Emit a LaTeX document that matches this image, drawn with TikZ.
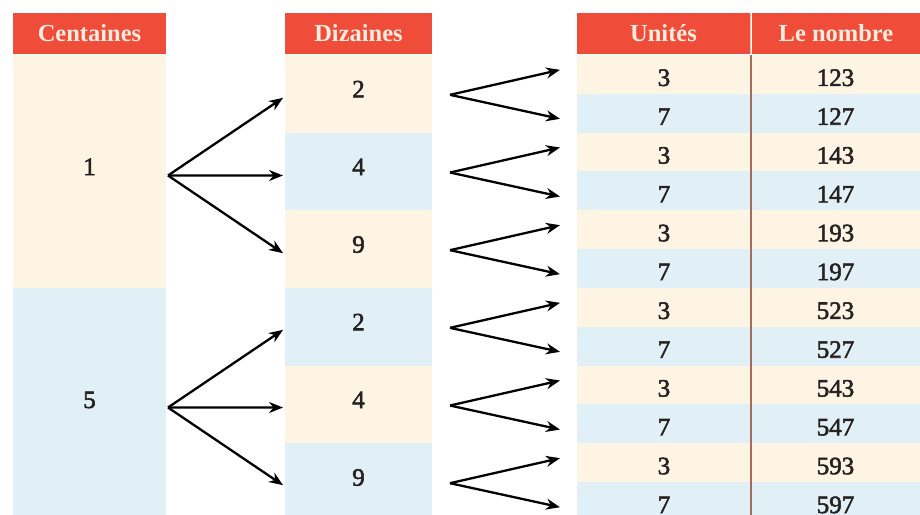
\documentclass[tikz,border=0pt]{standalone}
\usepackage{fontspec}
\setmainfont{Liberation Serif}
\newfontfamily\numfont[FakeBold=2.2]{Liberation Serif}
\usetikzlibrary{arrows.meta,calc}
\definecolor{hdr}{RGB}{239,76,58}
\definecolor{hdrtext}{RGB}{252,236,222}
\definecolor{cream}{RGB}{253,244,228}
\definecolor{lblue}{RGB}{225,240,247}
\definecolor{numcol}{RGB}{38,34,34}
\definecolor{sepcol}{RGB}{165,108,92}
\begin{document}
\begin{tikzpicture}[x=1pt,y=-1pt,
  cell/.style={draw=none, inner sep=0pt, outer sep=0pt, text=numcol,
    font=\numfont\fontsize{25}{25}\selectfont},
  up/.style={text height=17pt, text depth=10pt},
  dn/.style={text height=23pt, text depth=0pt},
  head/.style={fill=hdr, text=hdrtext, inner sep=0pt, outer sep=0pt,
    minimum height=41pt, font=\bfseries\fontsize{24.5}{24.5}\selectfont},
  arr/.style={line width=2.3pt, black, -{Stealth[length=14pt,width=11pt]}}
]
\useasboundingbox (0,0) rectangle (920,514);
\clip (0,0) rectangle (920,514);

% headers
\node[head, minimum width=153pt] (hc) at (89.5,33.5) {Centaines};
\node[head, minimum width=147pt] (hd) at (358.5,33.5) {Dizaines};
\node[head, minimum width=173pt] (hu) at (663.5,33.5) {Unités};
\node[head, minimum width=168pt] (hn) at (836,33.5) {Le nombre};

% centaines
\node[cell, up, fill=cream, minimum width=153pt, minimum height=233pt] (c1) at (89.5,171.5) {1};
\node[cell, up, fill=lblue, minimum width=153pt, minimum height=233pt] (c2) at (89.5,404.5) {5};

% dizaines
\foreach \k/\v/\col in {0/2/cream,1/4/lblue,2/9/cream,3/2/lblue,4/4/cream,5/9/lblue}{
  \node[cell, up, fill=\col, minimum width=147pt, minimum height=77.8pt] (d\k) at (358.5,{55+77.67*(\k+0.5)}) {\v};
}

% unites and nombre
\foreach \k/\u/\n/\col in {0/3/123/cream,1/7/127/lblue,2/3/143/cream,3/7/147/lblue,4/3/193/cream,5/7/197/lblue,6/3/523/cream,7/7/527/lblue,8/3/543/cream,9/7/547/lblue,10/3/593/cream,11/7/597/lblue}{
  \node[cell, dn, fill=\col, minimum width=174pt, minimum height=39pt] (u\k) at (664,{55+38.83*(\k+0.5)}) {\u};
  \node[cell, dn, fill=\col, minimum width=169pt, minimum height=39pt] (n\k) at (835.5,{55+38.83*(\k+0.5)}) {\n};
}
\draw[sepcol, line width=1.4pt] (u0.north east) -- (u11.south east);
\draw[hdrtext!70!hdr, line width=1pt] (hu.north east) -- (hu.south east);

% arrows centaines -> dizaines
\foreach \k in {0,1,2}{
  \draw[arr] ($(c1.east)+(2,4)$) -- ($(d\k.west)+(-2,4)$);
}
\foreach \k in {3,4,5}{
  \draw[arr] ($(c2.east)+(2,3)$) -- ($(d\k.west)+(-2,3)$);
}
% arrows dizaines -> unites
\foreach \k in {0,...,5}{
  \draw[arr] ($(d\k.east)+(18,1)$) -- ($(d\k.east)+(128,-24)$);
  \draw[arr] ($(d\k.east)+(18,1)$) -- ($(d\k.east)+(128,25)$);
}
\end{tikzpicture}
\end{document}
